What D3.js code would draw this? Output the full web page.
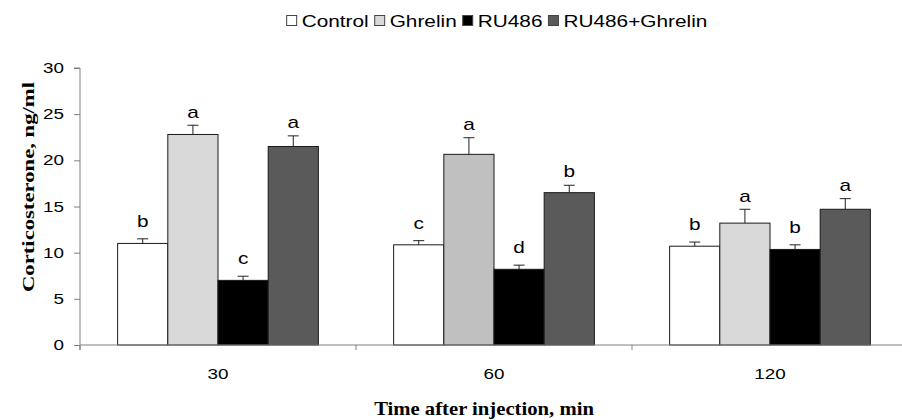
<!DOCTYPE html>
<html>
<head>
<meta charset="utf-8">
<script src="https://cdn.jsdelivr.net/npm/d3@7/dist/d3.min.js"></script>
<style>
  html, body { margin: 0; padding: 0; background: #fff; }
  svg { display: block; }
  .sans { font-family: Arial, "Liberation Sans", sans-serif; fill: #000; }
  .serif { font-family: "Times New Roman", "Liberation Serif", serif; font-weight: bold; fill: #000; }
</style>
</head>
<body>
<svg id="chart" width="902" height="420"></svg>
<script>
// Time points (min after injection) and treatment groups
const categories = ["30", "60", "120"];
const series = ["Control", "Ghrelin", "RU486", "RU486+Ghrelin"];

// Mean corticosterone, ng/ml, per time point
const controlMean = [11.0, 10.85, 10.7];
const ghrelinMean = [22.8, 20.65, 13.2];
const ru486Mean = [7.0, 8.2, 10.35];
const comboMean = [21.5, 16.5, 14.7];

// Standard error of the mean
const controlSem = [0.5, 0.45, 0.45];
const ghrelinSem = [1.0, 1.8, 1.5];
const ru486Sem = [0.45, 0.45, 0.5];
const comboSem = [1.15, 0.8, 1.15];

// Significance letters
const controlSig = ["b", "c", "b"];
const ghrelinSig = ["a", "a", "a"];
const ru486Sig = ["c", "d", "b"];
const comboSig = ["a", "b", "a"];

const yTicks = [0, 5, 10, 15, 20, 25, 30];

const seriesData = [
  { name: series[0], mean: controlMean, sem: controlSem, sig: controlSig },
  { name: series[1], mean: ghrelinMean, sem: ghrelinSem, sig: ghrelinSig },
  { name: series[2], mean: ru486Mean, sem: ru486Sem, sig: ru486Sig },
  { name: series[3], mean: comboMean, sem: comboSem, sig: comboSig }
];

const fills = { "Control": "#ffffff", "Ghrelin": "#d9d9d9", "RU486": "#000000", "RU486+Ghrelin": "#5a5a5a" };
// the 60-min Ghrelin bar is shaded a step darker
const fillOverride = { "60|Ghrelin": "#c0c0c0" };

const SX = 1.3;        // horizontal stretch of sans text
const SX_XTITLE = 1.15;
const SX_YTITLE = 1.42;

const svg = d3.select("#chart");
const plot = { left: 80, right: 908, top: 68, bottom: 345 };

const x0 = d3.scaleBand().domain(categories).range([plot.left, plot.right]).paddingInner(0).paddingOuter(0);
const x1 = d3.scaleBand().domain(series).range([0, x0.bandwidth()]).paddingInner(0).paddingOuter(0.75);
const y = d3.scaleLinear().domain([0, 30]).range([plot.bottom, plot.top]);

function stretchedText(parent, x, yy, txt, cls, size, sx, anchor, rot) {
  const g = parent.append("g")
    .attr("transform", `translate(${x},${yy})` + (rot ? ` rotate(${rot})` : "") + ` scale(${sx},1)`);
  return g.append("text").attr("class", cls).attr("font-size", size)
    .attr("text-anchor", anchor || "middle").text(txt);
}

// Bars
const rows = [];
seriesData.forEach(s => categories.forEach((c, i) => {
  rows.push({ series: s.name, cat: c, mean: s.mean[i], sem: s.sem[i], sig: s.sig[i] });
}));

const bars = svg.append("g");
bars.selectAll("rect").data(rows).join("rect")
  .attr("x", d => x0(d.cat) + x1(d.series))
  .attr("y", d => y(d.mean))
  .attr("width", x1.bandwidth())
  .attr("height", d => y(0) - y(d.mean))
  .attr("fill", d => fillOverride[d.cat + "|" + d.series] || fills[d.series])
  .attr("stroke", "#1a1a1a")
  .attr("stroke-width", 1);

// Upper error whiskers
const err = svg.append("g").attr("stroke", "#222").attr("stroke-width", 1);
rows.forEach(d => {
  const cx = x0(d.cat) + x1(d.series) + x1.bandwidth() / 2;
  err.append("line").attr("x1", cx).attr("x2", cx).attr("y1", y(d.mean)).attr("y2", y(d.mean + d.sem));
  err.append("line").attr("x1", cx - 5.5).attr("x2", cx + 5.5).attr("y1", y(d.mean + d.sem)).attr("y2", y(d.mean + d.sem));
});

// Significance letters above whiskers
const lab = svg.append("g");
rows.forEach(d => {
  const cx = x0(d.cat) + x1(d.series) + x1.bandwidth() / 2;
  const base = Math.min(y(d.mean) - 16, y(d.mean + d.sem) - 7.5);
  stretchedText(lab, cx, base, d.sig, "sans", 16, SX, "middle");
});

// Y axis
const yAxis = d3.axisLeft(y).tickValues(yTicks).tickSize(6).tickFormat("");
const yg = svg.append("g").attr("transform", `translate(${plot.left},0)`).call(yAxis);
yg.selectAll("path, line").attr("stroke", "#808080");
yg.select(".domain").attr("d", `M-6,${plot.top}H0V${plot.bottom + 5}`);
yTicks.forEach(t => {
  stretchedText(svg, 64, y(t) + 5, String(t), "sans", 14.5, SX, "end");
});

// X axis: baseline with ticks at group boundaries
const xg = svg.append("g");
xg.append("line").attr("x1", plot.left).attr("x2", plot.right).attr("y1", plot.bottom).attr("y2", plot.bottom)
  .attr("stroke", "#808080");
categories.forEach(c => {
  const bx = x0(c);
  xg.append("line").attr("x1", bx).attr("x2", bx).attr("y1", plot.bottom).attr("y2", plot.bottom + 5)
    .attr("stroke", "#808080");
  stretchedText(svg, bx + x0.bandwidth() / 2, 379, c, "sans", 14.5, SX, "middle");
});

// Axis titles
stretchedText(svg, 484, 415, "Time after injection, min", "serif", 18, SX_XTITLE, "middle");
stretchedText(svg, 34, 187, "Corticosterone, ng/ml", "serif", 16, SX_YTITLE, "middle", -90);

// Legend
const leg = svg.append("g");
let cursor = 0;
series.forEach(name => {
  const g = leg.append("g");
  g.append("rect").attr("x", cursor).attr("y", 15.5).attr("width", 10).attr("height", 10)
    .attr("fill", fills[name]).attr("stroke", "#444").attr("stroke-width", 1);
  cursor += 10 + 5;
  const t = stretchedText(g, cursor, 26.5, name, "sans", 16, SX, "start");
  cursor += t.node().getComputedTextLength() * SX + 6;
});
const legendWidth = cursor - 6;
leg.attr("transform", `translate(${497 - legendWidth / 2},0)`);
</script>
</body>
</html>
